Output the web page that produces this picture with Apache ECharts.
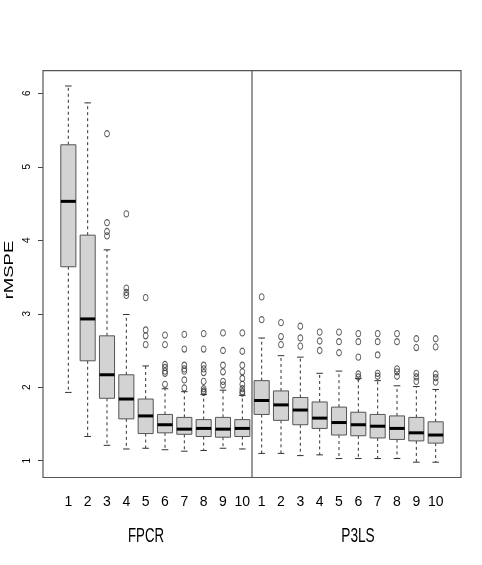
<!DOCTYPE html>
<html>
<head>
<meta charset="utf-8">
<style>
  html, body { margin: 0; padding: 0; background: #fff; }
  #container { width: 482px; height: 565px; }
</style>
</head>
<body>
<div id="container"></div>
<script src="https://cdn.jsdelivr.net/npm/echarts@6/dist/echarts.min.js"></script>
<script>
// tick labels under each box, and the two groups
const tickLabels = ['1', '2', '3', '4', '5', '6', '7', '8', '9', '10'];
const groups = ['FPCR', 'P3LS'];
const yTicks = [1, 2, 3, 4, 5, 6];

// [lower whisker, Q1, median, Q3, upper whisker]
const fpcrBoxes = [
  [1.93, 3.64, 4.53, 5.30, 6.10],
  [1.33, 2.36, 2.93, 4.07, 5.87],
  [1.21, 1.85, 2.17, 2.70, 3.87],
  [1.16, 1.57, 1.84, 2.17, 2.99],
  [1.17, 1.37, 1.61, 1.84, 2.29],
  [1.15, 1.38, 1.49, 1.63, 1.98],
  [1.13, 1.36, 1.43, 1.59, 1.94],
  [1.14, 1.33, 1.44, 1.56, 1.90],
  [1.17, 1.32, 1.43, 1.59, 1.96],
  [1.16, 1.33, 1.44, 1.56, 1.89]
];
const p3lsBoxes = [
  [1.10, 1.63, 1.82, 2.09, 2.67],
  [1.10, 1.55, 1.76, 1.95, 2.43],
  [1.07, 1.49, 1.69, 1.86, 2.41],
  [1.08, 1.44, 1.58, 1.80, 2.19],
  [1.03, 1.35, 1.52, 1.73, 2.22],
  [1.03, 1.34, 1.49, 1.66, 2.12],
  [1.03, 1.31, 1.47, 1.63, 2.09],
  [1.03, 1.29, 1.44, 1.61, 2.02],
  [0.98, 1.27, 1.38, 1.59, 2.01],
  [0.98, 1.24, 1.35, 1.53, 1.97]
];
const fpcrOutliers = [
  [],
  [],
  [5.45, 4.24, 4.12, 4.06],
  [4.36, 3.35, 3.29, 3.25],
  [3.22, 2.78, 2.70, 2.58],
  [2.71, 2.58, 2.31, 2.27, 2.22, 2.19, 2.04],
  [2.72, 2.52, 2.30, 2.25, 2.22, 2.10, 1.99],
  [2.73, 2.52, 2.30, 2.25, 2.20, 2.08, 1.98, 1.95, 1.93],
  [2.74, 2.50, 2.30, 2.21, 2.08, 2.03],
  [2.74, 2.49, 2.30, 2.21, 2.12, 2.04, 1.98, 1.94, 1.92]
];
const p3lsOutliers = [
  [3.23, 2.92],
  [2.88, 2.69, 2.58],
  [2.83, 2.67, 2.56],
  [2.75, 2.63, 2.50],
  [2.75, 2.62, 2.47],
  [2.73, 2.62, 2.41, 2.18, 2.14],
  [2.73, 2.62, 2.44, 2.19, 2.15],
  [2.73, 2.62, 2.25, 2.21, 2.15],
  [2.66, 2.54, 2.19, 2.14, 2.08],
  [2.66, 2.55, 2.18, 2.13, 2.07]
];

// plot frame (R box) and inner grid holding the 20 bands
const frame = { left: 43, top: 70.7, right: 461, bottom: 477.5 };
const gridLeft = 58.67, gridRight = 482 - 445.33;

const allBoxes = fpcrBoxes.concat(p3lsBoxes);
const allOutliers = fpcrOutliers.concat(p3lsOutliers);
const categories = [];
groups.forEach(function (g) {
  tickLabels.forEach(function (t) { categories.push(g + ' ' + t); });
});
const boxData = allBoxes.map(function (b, i) { return [i].concat(b); });
const outlierData = [];
allOutliers.forEach(function (list, i) {
  list.forEach(function (v) { outlierData.push([i, v]); });
});

function renderBox(params, api) {
  const i = api.value(0);
  const band = api.size([1, 0])[0];
  const half = band * 0.39;
  const cap = band * 0.17;
  const x = api.coord([i, api.value(1)])[0];
  const lw = api.coord([i, api.value(1)])[1];
  const q1 = api.coord([i, api.value(2)])[1];
  const md = api.coord([i, api.value(3)])[1];
  const q3 = api.coord([i, api.value(4)])[1];
  const uw = api.coord([i, api.value(5)])[1];
  const dash = { stroke: '#333', lineWidth: 1, lineDash: [3, 3] };
  const solid = { stroke: '#333', lineWidth: 1 };
  return {
    type: 'group',
    children: [
      { type: 'line', shape: { x1: x, y1: q3, x2: x, y2: uw }, style: dash },
      { type: 'line', shape: { x1: x, y1: q1, x2: x, y2: lw }, style: dash },
      { type: 'line', shape: { x1: x - cap, y1: uw, x2: x + cap, y2: uw }, style: solid },
      { type: 'line', shape: { x1: x - cap, y1: lw, x2: x + cap, y2: lw }, style: solid },
      { type: 'rect', shape: { x: x - half, y: q3, width: half * 2, height: q1 - q3 },
        style: { fill: '#d3d3d3', stroke: '#555', lineWidth: 1 } },
      { type: 'line', shape: { x1: x - half, y1: md, x2: x + half, y2: md },
        style: { stroke: '#000', lineWidth: 3 } }
    ]
  };
}

const dom = document.getElementById('container');
const myChart = echarts.init(dom);
const option = {
  animation: false,
  backgroundColor: '#fff',
  grid: {
    left: gridLeft, right: gridRight,
    top: frame.top, bottom: 565 - frame.bottom
  },
  xAxis: {
    type: 'category',
    data: categories,
    boundaryGap: true,
    axisLine: { show: false },
    axisTick: { alignWithLabel: true, length: 8, interval: 0, lineStyle: { color: '#444' } },
    axisLabel: {
      interval: 0, margin: 18, fontSize: 14, color: '#000',
      fontFamily: "'Liberation Sans Narrow', 'Liberation Sans', sans-serif",
      formatter: function (v, idx) { return tickLabels[idx % tickLabels.length]; }
    },
    splitLine: { show: false }
  },
  yAxis: {
    type: 'value',
    min: 0.772, max: 6.308,
    offset: gridLeft - frame.left,
    axisLine: { show: false },
    axisTick: { show: true, customValues: yTicks, length: 5, lineStyle: { color: '#444' } },
    axisLabel: {
      customValues: yTicks, rotate: 90, fontSize: 10, margin: 11, color: '#000',
      fontFamily: "'Liberation Sans', sans-serif"
    },
    splitLine: { show: false }
  },
  series: [
    {
      type: 'custom',
      renderItem: renderBox,
      encode: { x: 0, y: [1, 2, 3, 4, 5] },
      data: boxData,
      z: 2
    },
    {
      type: 'scatter',
      data: outlierData,
      symbol: 'circle',
      symbolSize: [4.8, 6.2],
      itemStyle: { color: 'transparent', borderColor: '#333', borderWidth: 1 },
      z: 3
    }
  ]
};
myChart.setOption(option, true);

// frame, group divider and text, placed from the axis positions
const xDiv = (myChart.convertToPixel({ xAxisIndex: 0 }, 9) +
              myChart.convertToPixel({ xAxisIndex: 0 }, 10)) / 2;
myChart.setOption({
  graphic: [
    { type: 'rect', silent: true, z: 10,
      shape: { x: frame.left, y: frame.top, width: frame.right - frame.left, height: frame.bottom - frame.top },
      style: { fill: 'none', stroke: '#555', lineWidth: 1.2 } },
    { type: 'line', silent: true, z: 10,
      shape: { x1: xDiv, y1: frame.top, x2: xDiv, y2: frame.bottom },
      style: { stroke: '#555', lineWidth: 1.2 } },
    { type: 'text', x: 146, y: 536, scaleX: 0.63,
      style: { text: groups[0], fontSize: 21, fontFamily: 'Liberation Sans', fill: '#000', textAlign: 'center', textVerticalAlign: 'middle' } },
    { type: 'text', x: 358, y: 536, scaleX: 0.65,
      style: { text: groups[1], fontSize: 21, fontFamily: 'Liberation Sans', fill: '#000', textAlign: 'center', textVerticalAlign: 'middle' } },
    { type: 'text', x: 10, y: 270, rotation: Math.PI / 2, scaleY: 0.68,
      style: { text: 'rMSPE', fontSize: 18.5, fontFamily: 'Liberation Sans', fill: '#000', textAlign: 'center', textVerticalAlign: 'middle' } }
  ]
});
</script>
</body>
</html>
